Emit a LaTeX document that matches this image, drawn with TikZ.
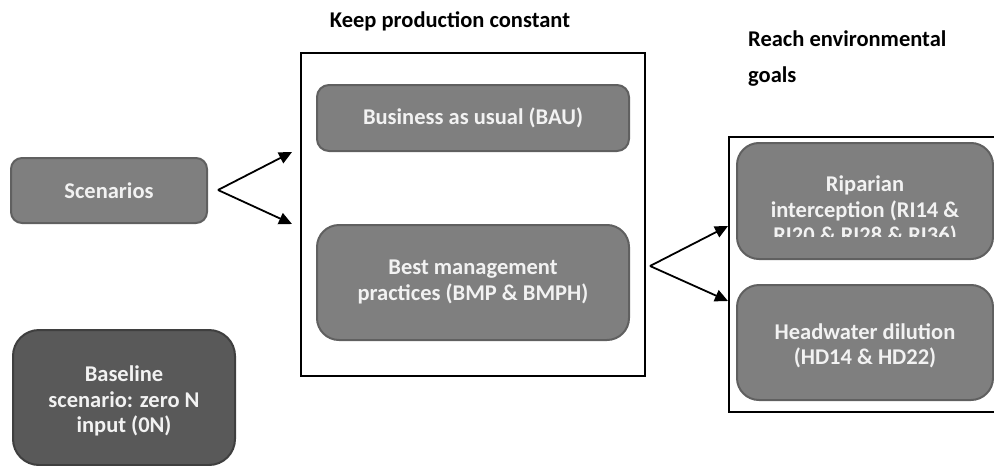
\documentclass[tikz,border=0pt]{standalone}
\usepackage{fontspec}
\setmainfont{Carlito}
\usetikzlibrary{arrows.meta}
\definecolor{boxfill}{HTML}{7F7F7F}
\definecolor{boxline}{HTML}{606060}
\definecolor{basefill}{HTML}{595959}
\definecolor{baseline}{HTML}{3F3F3F}
\definecolor{boxtext}{HTML}{F2F2F2}
\tikzset{
  gbox/.style={draw=boxline, fill=boxfill, line width=2pt, text=boxtext,
    font=\bfseries\fontsize{22.5}{25.5}\selectfont, align=center, inner sep=0pt},
  bbox/.style={gbox, draw=baseline, fill=basefill},
  frame/.style={draw=black, line width=2.6pt},
  title/.style={font=\bfseries\fontsize{22.5}{36}\selectfont, text=black, inner sep=0pt},
  conn/.style={line width=1.8pt, -{Triangle[length=13pt,width=12pt]}}
}
\begin{document}
\begin{tikzpicture}[x=1pt,y=-1pt]
\useasboundingbox (0,0) rectangle (994,466);
% frames
\draw[frame] (301,53) rectangle (645,376);
\draw[frame] (729,137) rectangle (1000,412);
% titles
\node[title] (t1) at (450,21) {Keep production constant};
\node[title, align=left, anchor=north west] (t2) at (748,31) {Reach environmental\\goals};
% boxes
\draw[gbox, rounded corners=11pt] (11,158) rectangle (207,223);
\node[gbox, draw=none, fill=none] (scen) at (109,191) {Scenarios};
\draw[bbox, rounded corners=26pt] (13,330) rectangle (235,465);
\node[bbox, draw=none, fill=none] (base) at (124,401) {Baseline\\scenario: zero N\\input (0N)};
\draw[gbox, rounded corners=12pt] (317,85) rectangle (629,151);
\node[gbox, draw=none, fill=none] (bau) at (473,118) {Business as usual (BAU)};
\draw[gbox, rounded corners=22pt] (317,225) rectangle (629,340);
\node[gbox, draw=none, fill=none] (bmp) at (473,282) {Best management\\practices (BMP \& BMPH)};
\draw[gbox, rounded corners=22pt] (737,143) rectangle (993,259);
\begin{scope}
\clip (737,143) rectangle (993,236);
\node[gbox, draw=none, fill=none, anchor=north] (rip) at (865,175) {Riparian\\interception (RI14 \&\\RI20 \& RI28 \& RI36)};
\end{scope}
\draw[gbox, rounded corners=22pt] (737,285) rectangle (993,400);
\node[gbox, draw=none, fill=none] (hd) at (865,346) {Headwater dilution\\(HD14 \& HD22)};
% connectors
\coordinate (s1) at (218,190);
\coordinate (e1) at (292,152);
\coordinate (e2) at (292,224);
\coordinate (s2) at (650,266);
\coordinate (e3) at (728,226);
\coordinate (e4) at (728,301);
\draw[conn] (s1) -- (e1);
\draw[conn] (s1) -- (e2);
\draw[conn] (s2) -- (e3);
\draw[conn] (s2) -- (e4);
\end{tikzpicture}
\end{document}
